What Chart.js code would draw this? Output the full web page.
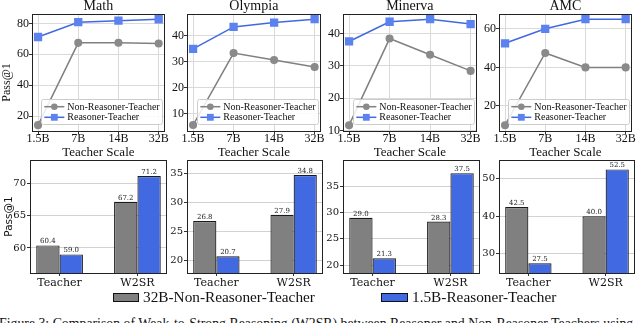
<!DOCTYPE html>
<html><head><meta charset="utf-8">
<script src="https://cdn.jsdelivr.net/npm/chart.js@4.4.1/dist/chart.umd.min.js"></script>
<style>
html,body{margin:0;padding:0;background:#fff;}
body{width:640px;height:323px;overflow:hidden;position:relative;}
#root{position:absolute;left:0;top:0;width:640px;height:323px;}
canvas{position:absolute;}
.lg{position:absolute;font-family:'Liberation Serif',serif;font-size:15.3px;line-height:15px;color:#111;white-space:nowrap;}
.sw{position:absolute;border:1px solid #111;box-sizing:border-box;}
#caption{position:absolute;left:-1px;top:315.5px;font-family:'Liberation Serif',serif;font-size:13.8px;line-height:15px;color:#111;white-space:nowrap;}
</style></head>
<body><div id="root">
<div id="caption">Figure 3: Comparison of Weak-to-Strong Reasoning (W2SR) between Reasoner and Non-Reasoner Teachers using</div>
</div>
<script>
const DPR = 1;
const root = document.getElementById('root');
// ---------- data ----------
const panelTitles = ['Math', 'Olympia', 'Minerva', 'AMC'];
const teacherScales = ['1.5B', '7B', '14B', '32B'];
const lineSeriesNames = ['Non-Reasoner-Teacher', 'Reasoner-Teacher'];

const mathNonReasoner    = [14.1, 67.4, 67.5, 67.0];
const mathReasoner       = [71.2, 80.8, 81.8, 82.7];
const olympiaNonReasoner = [5.5, 33.3, 30.6, 27.9];
const olympiaReasoner    = [34.9, 43.4, 45.1, 46.4];
const minervaNonReasoner = [11.6, 38.4, 33.4, 28.4];
const minervaReasoner    = [37.5, 43.6, 44.4, 42.9];
const amcNonReasoner     = [10.0, 47.5, 40.0, 40.0];
const amcReasoner        = [52.5, 60.0, 65.0, 65.0];

const mathLineTicks    = [20, 40, 60, 80];
const olympiaLineTicks = [10, 20, 30, 40];
const minervaLineTicks = [10, 20, 30, 40];
const amcLineTicks     = [20, 40, 60];

const barCategories = ['Teacher', 'W2SR'];
const barSeriesNames = ['32B-Non-Reasoner-Teacher', '1.5B-Reasoner-Teacher'];
const mathBarNonReasoner    = [60.4, 67.2];
const mathBarReasoner       = [59.0, 71.2];
const olympiaBarNonReasoner = [26.8, 27.9];
const olympiaBarReasoner    = [20.7, 34.8];
const minervaBarNonReasoner = [29.0, 28.3];
const minervaBarReasoner    = [21.3, 37.5];
const amcBarNonReasoner     = [42.5, 40.0];
const amcBarReasoner        = [27.5, 52.5];

const mathBarTicks    = [60, 65, 70];
const olympiaBarTicks = [20, 25, 30, 35];
const minervaBarTicks = [20, 25, 30, 35];
const amcBarTicks     = [30, 40, 50];

// ---------- styles / layout ----------
const GRAY = '#808080', GRAY_PT = '#8a8a8a', BLUE = '#4169e1', BLUE_PT = '#5b82ee';
const SERIF = "'Liberation Serif', 'Times New Roman', serif";
const DSERIF = "'DejaVu Serif', serif";

const framePlugin = {
  id: 'frame',
  afterDatasetsDraw(chart) {
    const a = chart.chartArea, c = chart.ctx;
    c.save(); c.strokeStyle = '#222'; c.lineWidth = 1;
    c.strokeRect(Math.round(a.left) + 0.5, Math.round(a.top) + 0.5, Math.round(a.right - a.left) - 1, Math.round(a.bottom - a.top));
    c.restore();
  }
};
const titlePlugin = {
  id: 'panelTitle',
  afterDraw(chart, args, opts) {
    if (!opts.text) return;
    const a = chart.chartArea, c = chart.ctx;
    c.save(); c.fillStyle = '#111'; c.font = opts.font; c.textAlign = 'center'; c.textBaseline = 'middle';
    c.fillText(opts.text, (a.left + a.right) / 2, a.top - opts.dy);
    c.restore();
  }
};
const sideLabelPlugin = {
  id: 'sideLabel',
  afterDraw(chart, args, opts) {
    if (!opts.text) return;
    const a = chart.chartArea, c = chart.ctx;
    c.save(); c.fillStyle = '#111'; c.font = opts.font; c.textAlign = 'center'; c.textBaseline = 'middle';
    c.translate(opts.x, (a.top + a.bottom) / 2 + opts.dy); c.rotate(-Math.PI / 2);
    c.fillText(opts.text, 0, 0);
    c.restore();
  }
};
const inLegendPlugin = {
  id: 'inLegend',
  afterDraw(chart, args, opts) {
    if (!opts.show) return;
    const a = chart.chartArea, c = chart.ctx;
    c.save();
    c.font = '10px ' + SERIF;
    const tw = Math.max(...chart.data.datasets.map(d => c.measureText(d.label).width));
    const w = 3 + 20 + 3 + tw + 3, h = 25;
    const x = a.right - 2 - w, y = a.bottom - 7 - h;
    c.fillStyle = 'rgba(255,255,255,0.85)'; c.strokeStyle = '#cccccc'; c.lineWidth = 1;
    c.beginPath(); c.roundRect(Math.round(x) + 0.5, Math.round(y) + 0.5, Math.round(w), h, 2); c.fill(); c.stroke();
    chart.data.datasets.forEach((d, i) => {
      const cy = y + 7.7 + i * 10.6;
      c.strokeStyle = d.borderColor; c.lineWidth = 1.5;
      c.beginPath(); c.moveTo(x + 3, cy); c.lineTo(x + 23, cy); c.stroke();
      c.fillStyle = d.pointBackgroundColor;
      if (d.pointStyle === 'rect') { c.fillRect(x + 13 - 3.4, cy - 3.4, 6.8, 6.8); }
      else { c.beginPath(); c.arc(x + 13, cy, 3.3, 0, Math.PI * 2); c.fill(); }
      c.fillStyle = '#111'; c.textAlign = 'left'; c.textBaseline = 'middle';
      c.fillText(d.label, x + 26, cy + 0.5);
    });
    c.restore();
  }
};
const barLabelPlugin = {
  id: 'barLabels',
  afterDatasetsDraw(chart) {
    const c = chart.ctx;
    c.save(); c.fillStyle = '#222'; c.font = '7px ' + DSERIF; c.textAlign = 'center'; c.textBaseline = 'bottom';
    chart.data.datasets.forEach((d, di) => {
      chart.getDatasetMeta(di).data.forEach((el, i) => {
        c.fillText(d.data[i].y.toFixed(1), el.x, el.y - 0.3);
      });
    });
    c.restore();
  }
};

function makeCanvas(left, top, w, h) {
  const cv = document.createElement('canvas');
  cv.style.left = left + 'px'; cv.style.top = top + 'px';
  cv.style.width = w + 'px'; cv.style.height = h + 'px';
  cv.width = w; cv.height = h;
  root.appendChild(cv);
  return cv;
}
const noPad = s => { s.paddingLeft = 0; s.paddingRight = 0; s.paddingTop = 0; s.paddingBottom = 0; };

const topLefts = [32, 187, 343, 499], topRights = [167.5, 323.5, 480, 635];
const botLefts = [30, 187, 343, 499], botRights = [167, 323, 480, 635];

function lineChart(i, nonVals, reaVals, yMin, yMax, yTicks) {
  const yW = 32, rp = 3;
  const w = Math.ceil(topRights[i] - topLefts[i] + yW + rp);
  const cv = makeCanvas(topLefts[i] - yW, 0, w, 160);
  new Chart(cv, {
    type: 'line',
    data: { datasets: [
      { label: lineSeriesNames[0], data: nonVals.map((v, k) => ({ x: k, y: v })),
        borderColor: GRAY, backgroundColor: GRAY_PT, pointBackgroundColor: GRAY_PT, pointBorderColor: GRAY_PT,
        pointStyle: 'circle', pointRadius: 3.3, borderWidth: 1.5, tension: 0 },
      { label: lineSeriesNames[1], data: reaVals.map((v, k) => ({ x: k, y: v })),
        borderColor: BLUE, backgroundColor: BLUE_PT, pointBackgroundColor: BLUE_PT, pointBorderColor: BLUE_PT,
        pointStyle: 'rect', pointRadius: 4.8, borderWidth: 1.5, tension: 0 }
    ]},
    options: {
      responsive: false, animation: false, devicePixelRatio: DPR,
      layout: { padding: { top: 14, right: w - yW - (topRights[i] - topLefts[i]), left: 0, bottom: 0 } },
      plugins: { legend: { display: false }, tooltip: { enabled: false },
        panelTitle: { text: panelTitles[i], font: '14px ' + SERIF, dy: 7.5 },
        sideLabel: { text: i === 0 ? 'Pass@1' : '', font: '12px ' + SERIF, x: 6.5, dy: 10 },
        inLegend: { show: true } },
      scales: {
        x: { type: 'linear', min: -0.15, max: 3.15,
          afterBuildTicks: s => { s.ticks = teacherScales.map((_, k) => ({ value: k })); },
          afterFit: s => { s.height = 29; noPad(s); },
          ticks: { callback: (v, k) => teacherScales[k], font: { family: SERIF, size: 12, lineHeight: 1 }, color: '#111', padding: -1, maxRotation: 0, autoSkip: false },
          grid: { color: '#dadada', tickColor: '#333', tickLength: 3, lineWidth: 1 },
          border: { display: false },
          title: { display: true, text: 'Teacher Scale', font: { family: SERIF, size: 13, lineHeight: 1.2 }, color: '#111', padding: 0 } },
        y: { min: yMin, max: yMax,
          afterBuildTicks: s => { s.ticks = yTicks.map(v => ({ value: v })); },
          afterFit: s => { s.width = yW; noPad(s); },
          ticks: { font: { family: SERIF, size: 12, lineHeight: 1 }, color: '#111', padding: 0, autoSkip: false },
          grid: { color: '#dadada', tickColor: '#333', tickLength: 3, lineWidth: 1 },
          border: { display: false } }
      }
    },
    plugins: [framePlugin, titlePlugin, sideLabelPlugin, inLegendPlugin]
  });
}

function barChart(i, nonVals, reaVals, yMin, yMax, yTicks) {
  const yW = 30, rp = 3, top = 156, padTop = 4, xH = 17;
  const w = Math.ceil(botRights[i] - botLefts[i] + yW + rp);
  const cv = makeCanvas(botLefts[i] - yW, top, w, padTop + 113 + xH);
  new Chart(cv, {
    type: 'bar',
    data: { datasets: [
      { label: barSeriesNames[0], data: nonVals.map((v, k) => ({ x: k, y: v })),
        backgroundColor: GRAY, borderColor: '#1a1a1a', borderWidth: 1.2, borderSkipped: false,
        categoryPercentage: 0.6, barPercentage: 1 },
      { label: barSeriesNames[1], data: reaVals.map((v, k) => ({ x: k, y: v })),
        backgroundColor: BLUE, borderColor: '#1a1a1a', borderWidth: 1.2, borderSkipped: false,
        categoryPercentage: 0.6, barPercentage: 1 }
    ]},
    options: {
      responsive: false, animation: false, devicePixelRatio: DPR,
      layout: { padding: { top: padTop, right: w - yW - (botRights[i] - botLefts[i]), left: 0, bottom: 0 } },
      plugins: { legend: { display: false }, tooltip: { enabled: false },
        sideLabel: { text: i === 0 ? 'Pass@1' : '', font: '10.5px ' + "'DejaVu Sans', sans-serif", x: 9.5, dy: 0 } },
      scales: {
        x: { type: 'linear', min: -0.38, max: 1.38, offset: false,
          afterBuildTicks: s => { s.ticks = barCategories.map((_, k) => ({ value: k })); },
          afterFit: s => { s.height = xH; noPad(s); },
          ticks: { callback: (v, k) => barCategories[k], font: { family: DSERIF, size: 11, lineHeight: 1 }, color: '#111', padding: 1.5, maxRotation: 0, autoSkip: false },
          grid: { display: true, drawOnChartArea: false, offset: false, tickColor: '#333', tickLength: 3 },
          border: { display: false } },
        y: { min: yMin, max: yMax, beginAtZero: false,
          afterBuildTicks: s => { s.ticks = yTicks.map(v => ({ value: v })); },
          afterFit: s => { s.width = yW; noPad(s); },
          ticks: { font: { family: DSERIF, size: 10, lineHeight: 1 }, color: '#111', padding: 1, autoSkip: false },
          grid: { color: '#d2d2d2', tickColor: '#333', tickLength: 3, lineWidth: 1 },
          border: { display: false } }
      }
    },
    plugins: [framePlugin, sideLabelPlugin, barLabelPlugin]
  });
}

lineChart(0, mathNonReasoner, mathReasoner, 10.3, 86.1, mathLineTicks);
lineChart(1, olympiaNonReasoner, olympiaReasoner, 3.2, 48.4, olympiaLineTicks);
lineChart(2, minervaNonReasoner, minervaReasoner, 9.8, 46.0, minervaLineTicks);
lineChart(3, amcNonReasoner, amcReasoner, 7.0, 67.7, amcLineTicks);

barChart(0, mathBarNonReasoner, mathBarReasoner, 56.1, 73.7, mathBarTicks);
barChart(1, olympiaBarNonReasoner, olympiaBarReasoner, 17.8, 37.4, olympiaBarTicks);
barChart(2, minervaBarNonReasoner, minervaBarReasoner, 18.5, 40.0, minervaBarTicks);
barChart(3, amcBarNonReasoner, amcBarReasoner, 24.9, 55.0, amcBarTicks);

const legendSpots = [{ sw: [113, 293, 26, 9], tx: 143 }, { sw: [381, 293, 27, 9], tx: 412 }];
const legendColors = [GRAY, BLUE];
barSeriesNames.forEach((name, k) => {
  const s = document.createElement('div'); s.className = 'sw';
  const [l, t, ww, hh] = legendSpots[k].sw;
  s.style.cssText = `left:${l}px;top:${t}px;width:${ww}px;height:${hh}px;background:${legendColors[k]};`;
  root.appendChild(s);
  const tx = document.createElement('div'); tx.className = 'lg';
  tx.style.left = legendSpots[k].tx + 'px'; tx.style.top = '289px';
  tx.textContent = name;
  root.appendChild(tx);
});
</script>
</body></html>
